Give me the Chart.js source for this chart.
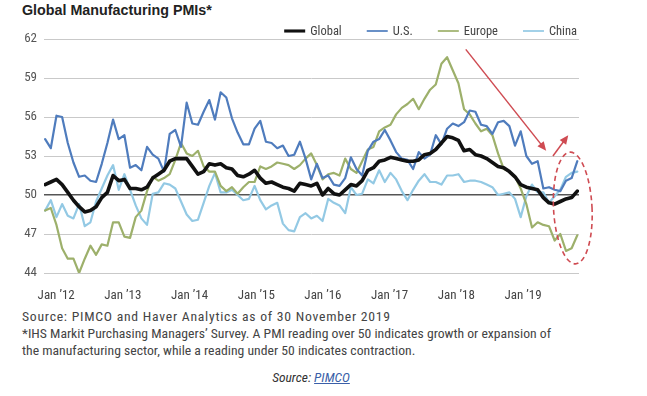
<!DOCTYPE html>
<html>
<head>
<meta charset="utf-8">
<title>Global Manufacturing PMIs</title>
<script src="https://cdn.jsdelivr.net/npm/chart.js@4.4.0/dist/chart.umd.min.js"></script>
<style>
  html, body { margin: 0; padding: 0; background: #fff; }
  body {
    width: 647px; height: 396px; position: relative; overflow: hidden;
    font-family: "Liberation Sans Narrow", "Roboto Condensed", "Arial Narrow", sans-serif;
    color: #444;
  }
  #title {
    position: absolute; left: 22px; top: 2px;
    font: bold 14.3px "Liberation Sans", Arial, sans-serif; color: #222;
    white-space: nowrap;
  }
  #wrap { position: absolute; left: 0; top: 0; width: 647px; height: 300px; }
  .note {
    position: absolute; left: 22px;
    font-size: 13.7px; line-height: 17px; white-space: nowrap;
  }
  #note1 { top: 308px; letter-spacing: 0.75px; }
  #note2 { top: 325px; }
  #note3 { top: 342px; }
  #source {
    position: absolute; left: 0; top: 369px; width: 622px; text-align: center;
    font-size: 13.5px; font-style: italic; color: #333;
  }
  #source a { color: #3b5fa8; text-decoration: underline; }
</style>
</head>
<body>
<div id="title">Global Manufacturing PMIs*</div>
<div id="wrap"><canvas id="chart" width="647" height="300"></canvas></div>
<div class="note" id="note1">Source: PIMCO and Haver Analytics as of 30 November 2019</div>
<div class="note" id="note2">*IHS Markit Purchasing Managers’ Survey. A PMI reading over 50 indicates growth or expansion of</div>
<div class="note" id="note3">the manufacturing sector, while a reading under 50 indicates contraction.</div>
<div id="source">Source: <a href="#">PIMCO</a></div>

<script>
// Monthly readings, Jan 2012 - Nov 2019
const globalPMI = [
    50.8, 51.0, 51.2, 50.8, 50.2, 49.6, 49.1, 48.7, 48.8, 49.1, 49.8, 50.2,
    51.5, 51.1, 51.2, 50.5, 50.5, 50.4, 50.6, 51.3, 51.6, 51.9, 52.6, 52.8,
    52.8, 52.8, 52.2, 51.6, 51.8, 52.4, 52.3, 52.4, 52.1, 52.0, 51.5, 51.4,
    51.6, 51.9, 51.3, 50.9, 51.0, 50.8, 50.6, 50.5, 50.3, 50.9, 50.8, 50.7,
    50.9, 50.0, 50.5, 50.1, 50.0, 50.4, 50.8, 50.7, 51.1, 51.9, 52.1, 52.6,
    52.7, 52.9, 52.8, 52.7, 52.6, 52.6, 52.7, 53.1, 53.2, 53.5, 54.0, 54.5,
    54.4, 54.2, 53.4, 53.5, 53.1, 53.0, 52.8, 52.5, 52.2, 52.1, 51.8, 51.4,
    50.8, 50.6, 50.5, 50.4, 49.8, 49.4, 49.3, 49.5, 49.7, 49.8, 50.3
];
const usPMI = [
    54.3, 53.6, 56.1, 56.0, 54.0, 52.5, 51.4, 51.5, 51.1, 51.0, 52.4, 54.0,
    55.8, 54.3, 54.6, 52.1, 52.3, 51.9, 53.7, 53.1, 52.8, 51.8, 54.7, 55.0,
    53.7, 57.1, 55.5, 55.4, 56.4, 57.3, 55.8, 57.9, 57.5, 55.9, 54.8, 53.9,
    53.9, 55.1, 55.7, 54.1, 54.0, 53.6, 53.8, 53.0, 53.1, 54.1, 52.8, 51.2,
    52.4, 51.3, 51.5, 50.8, 50.7, 51.3, 52.9, 52.0, 51.5, 53.4, 54.1, 54.3,
    55.0, 54.2, 53.3, 52.8, 52.7, 52.0, 53.3, 52.8, 53.1, 54.6, 53.9, 55.1,
    55.5, 55.3, 55.6, 56.5, 56.4, 55.4, 55.3, 54.7, 55.6, 55.7, 55.3, 53.8,
    54.9, 53.0, 52.4, 52.6, 50.5, 50.6, 50.4, 50.3, 51.1, 51.3, 52.6
];
const europePMI = [
    48.8, 49.0, 47.7, 45.9, 45.1, 45.1, 44.0, 45.1, 46.1, 45.4, 46.2, 46.1,
    47.9, 47.9, 46.8, 46.7, 48.3, 48.8, 50.3, 51.4, 51.1, 51.3, 51.6, 52.7,
    54.0, 53.2, 53.0, 53.4, 52.2, 51.8, 51.8, 50.7, 50.3, 50.6, 50.1, 50.6,
    51.0, 51.0, 52.2, 52.0, 52.2, 52.5, 52.4, 52.3, 52.0, 52.3, 52.8, 53.2,
    52.3, 51.2, 51.6, 51.7, 51.5, 52.8, 52.0, 51.7, 52.6, 53.5, 53.7, 54.9,
    55.2, 55.4, 56.2, 56.7, 57.0, 57.4, 56.6, 57.4, 58.1, 58.5, 60.1, 60.6,
    59.6, 58.6, 56.6, 56.2, 55.5, 54.9, 55.1, 54.6, 53.2, 52.0, 51.8, 51.4,
    50.5, 49.3, 47.5, 47.9, 47.7, 47.6, 46.5, 47.0, 45.7, 45.9, 46.9
];
const chinaPMI = [
    48.8, 49.6, 48.3, 49.3, 48.4, 48.2, 49.3, 47.6, 47.9, 49.5, 50.5, 51.5,
    52.3, 50.4, 51.6, 50.4, 49.2, 48.2, 47.7, 50.1, 50.2, 50.9, 50.8, 50.5,
    49.5, 48.5, 48.0, 48.1, 49.4, 50.7, 51.7, 50.2, 50.2, 50.4, 50.0, 49.6,
    49.7, 50.7, 49.6, 48.9, 49.2, 49.4, 47.8, 47.3, 47.2, 48.3, 48.6, 48.2,
    48.4, 48.0, 49.7, 49.4, 49.2, 48.6, 50.6, 50.0, 50.1, 51.2, 50.9, 51.9,
    51.0, 51.7, 51.2, 50.3, 49.6, 50.4, 51.1, 51.6, 51.0, 51.0, 50.8, 51.5,
    51.5, 51.6, 51.0, 51.1, 51.1, 51.0, 50.8, 50.6, 50.0, 50.1, 50.2, 49.7,
    48.3, 49.9, 50.8, 50.2, 50.2, 49.4, 49.9, 50.4, 51.4, 51.7, 51.8
];
const seriesNames = ["Global", "U.S.", "Europe", "China"];
const xTickLabels = ["Jan \u201912", "Jan \u201913", "Jan \u201914", "Jan \u201915",
                     "Jan \u201916", "Jan \u201917", "Jan \u201918", "Jan \u201919"];
const yTicks = [44, 47, 50, 53, 56, 59, 62];

const FONT = '"Liberation Sans Narrow", "Roboto Condensed", "Arial Narrow", sans-serif';

function toPoints(values) {
    return values.map(function (v, i) { return { x: i, y: v }; });
}

// legend drawn as short line samples to the right, above the top grid line
const lineLegend = {
    id: "lineLegend",
    afterDraw: function (chart) {
        const ctx = chart.ctx;
        const area = chart.chartArea;
        const y = area.top - 8;
        let x = area.right - 2;
        ctx.save();
        ctx.font = "12.5px " + FONT;
        ctx.textBaseline = "middle";
        chart.data.datasets.slice().reverse().forEach(function (ds) {
            const w = ctx.measureText(ds.label).width;
            x -= w;
            ctx.fillStyle = "#444";
            ctx.fillText(ds.label, x, y + 1);
            x -= 5;
            ctx.strokeStyle = ds.borderColor;
            ctx.lineWidth = ds.borderWidth - 0.5;
            ctx.beginPath();
            ctx.moveTo(x - 21, y);
            ctx.lineTo(x, y);
            ctx.stroke();
            x -= 21 + 25;
        });
        ctx.restore();
    }
};

// red arrows and dashed ring, placed in data units
const annotations = {
    id: "annotations",
    afterDatasetsDraw: function (chart) {
        const ctx = chart.ctx;
        const xs = chart.scales.x, ys = chart.scales.y;
        const px = function (v) { return xs.getPixelForValue(v); };
        const py = function (v) { return ys.getPixelForValue(v); };
        const red = "#cf4b52";

        function arrow(x1, y1, x2, y2) {
            const a = Math.atan2(y2 - y1, x2 - x1);
            const len = 9, half = 4;
            ctx.strokeStyle = red;
            ctx.fillStyle = red;
            ctx.lineWidth = 1.5;
            ctx.beginPath();
            ctx.moveTo(x1, y1);
            ctx.lineTo(x2 - Math.cos(a) * len * 0.8, y2 - Math.sin(a) * len * 0.8);
            ctx.stroke();
            ctx.beginPath();
            ctx.moveTo(x2, y2);
            ctx.lineTo(x2 - Math.cos(a) * len - Math.sin(a) * half, y2 - Math.sin(a) * len + Math.cos(a) * half);
            ctx.lineTo(x2 - Math.cos(a) * len + Math.sin(a) * half, y2 - Math.sin(a) * len - Math.cos(a) * half);
            ctx.closePath();
            ctx.fill();
        }

        ctx.save();
        arrow(px(74.3), py(61.2), px(88.5), py(53.4));
        arrow(px(89.7), py(53.0), px(92.4), py(54.6));

        const cx = px(93.2), cy = py(49.0);
        ctx.strokeStyle = red;
        ctx.lineWidth = 1.6;
        ctx.setLineDash([5, 3.5]);
        ctx.beginPath();
        ctx.ellipse(cx, cy, px(96.6) - cx, cy - py(53.3), -0.05, 0, Math.PI * 2);
        ctx.stroke();
        ctx.restore();
    }
};

const ctx = document.getElementById("chart").getContext("2d");
const myChart = new Chart(ctx, {
    type: "line",
    data: {
        datasets: [
            { label: seriesNames[0], data: toPoints(globalPMI), borderColor: "#111111", borderWidth: 3.6 },
            { label: seriesNames[1], data: toPoints(usPMI), borderColor: "#4f7cbd", borderWidth: 2.2 },
            { label: seriesNames[2], data: toPoints(europePMI), borderColor: "#9db06b", borderWidth: 2.2 },
            { label: seriesNames[3], data: toPoints(chinaPMI), borderColor: "#93c9e4", borderWidth: 2.2 }
        ]
    },
    options: {
        responsive: false,
        animation: false,
        layout: { padding: { top: 39, right: 68, bottom: 0, left: 0 } },
        elements: {
            point: { radius: 0 },
            line: { tension: 0, borderJoinStyle: "round", borderCapStyle: "round" }
        },
        plugins: {
            legend: { display: false },
            title: { display: false },
            tooltip: { enabled: false }
        },
        scales: {
            x: {
                type: "linear",
                min: -0.2,
                max: 94.3,
                grid: { display: false },
                border: { display: false },
                afterFit: function (scale) { scale.height = 27; },
                afterBuildTicks: function (scale) {
                    // label positions as set in the original layout
                    scale.ticks = xTickLabels.map(function (t, k) { return { value: 1.95 + k * 11.78 }; });
                },
                ticks: {
                    autoSkip: false,
                    maxRotation: 0,
                    padding: 7,
                    color: "#444",
                    font: { family: FONT, size: 13 },
                    callback: function (value, index) { return xTickLabels[index]; }
                }
            },
            y: {
                min: yTicks[0],
                max: yTicks[yTicks.length - 1],
                afterFit: function (scale) { scale.width = 44; },
                afterBuildTicks: function (scale) {
                    scale.ticks = yTicks.map(function (v) { return { value: v }; });
                },
                border: { display: false },
                grid: {
                    drawTicks: false,
                    color: function (c) { return c.tick && c.tick.value === 50 ? "#555" : "#c9c9c9"; },
                    lineWidth: function (c) { return c.tick && c.tick.value === 50 ? 1.6 : 1; }
                },
                ticks: {
                    padding: 7,
                    color: "#555",
                    font: { family: FONT, size: 13 }
                }
            }
        }
    },
    plugins: [annotations, lineLegend]
});
</script>
</body>
</html>
